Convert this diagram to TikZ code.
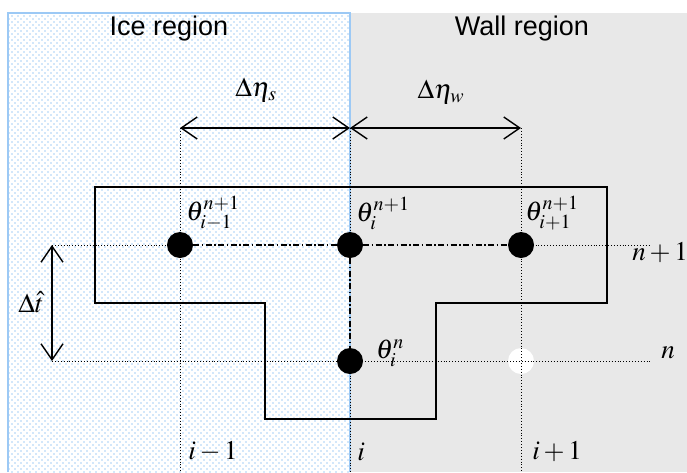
\documentclass[tikz,border=0pt]{standalone}
\usepackage{mathptmx}
\usepackage{fontspec}
\setmainfont{Liberation Sans}
\usetikzlibrary{arrows.meta,patterns.meta}
\definecolor{iceblue}{HTML}{A6D0F5}
\definecolor{iceedge}{HTML}{9CC9F5}
\definecolor{wallgray}{HTML}{E8E8E8}
\tikzset{
  dotnode/.style={circle,fill=black,minimum size=26pt,inner sep=0pt},
  hollownode/.style={circle,fill=white,minimum size=26pt,inner sep=0pt},
  gridline/.style={dotted,line width=0.9pt},
  linkline/.style={dash pattern=on 6pt off 2.5pt on 1.5pt off 2.5pt,line width=1.4pt},
  dimarrow/.style={line width=1.4pt,{Straight Barb[length=16pt,width=22pt,line width=1.4pt]}-{Straight Barb[length=16pt,width=22pt,line width=1.4pt]}},
  boxline/.style={line width=2pt,line join=miter},
  regionlabel/.style={font=\fontsize{27}{30}\selectfont},
  mathlabel/.style={font=\fontsize{27}{29}\selectfont,inner sep=0pt},
}
\begin{document}
\begin{tikzpicture}[x=1pt,y=-1pt]
\useasboundingbox (0,0) rectangle (687,472);
% regions
\fill[wallgray] (350,13) rectangle (687,472);
\fill[white] (8,13) rectangle (350,472);
\fill[pattern={Dots[radius=0.85pt,distance=6pt]},pattern color=iceblue] (8,13) rectangle (350,472);
\fill[pattern={Dots[radius=0.85pt,distance=6pt,xshift=3pt,yshift=3pt]},pattern color=iceblue] (8,13) rectangle (350,472);
\draw[iceedge,line width=1.5pt] (8,472) -- (8,13) -- (350,13) -- (350,472);
\node[regionlabel] (ice) at (169,29) {Ice region};
\node[regionlabel] (wall) at (522,29) {Wall region};
% coordinates
\coordinate (ti1) at (180,128);
\coordinate (ti) at (350,128);
\coordinate (tip) at (521,128);
\coordinate (bi1) at (180,472);
\coordinate (bi) at (350,472);
\coordinate (bip) at (521,472);
\coordinate (la) at (52,245);
\coordinate (ra) at (650,245);
\coordinate (lb) at (52,361);
\coordinate (rb) at (650,361);
% hollow node
\node[hollownode] (e) at (521,361) {};
% grid lines
\draw[gridline] (ti1) -- (bi1);
\draw[gridline] (tip) -- (bip);
\draw[gridline] (ti) -- (350,245);
\draw[gridline] (350,361) -- (bi);
\draw[gridline] (la) -- (180,245);
\draw[gridline] (521,245) -- (ra);
\draw[gridline] (lb) -- (rb);
% T-shaped box
\draw[boxline] (95,187) -- (607,187) -- (607,303) -- (436,303) -- (436,419) -- (265,419) -- (265,303) -- (95,303) -- cycle;
% nodes
\node[dotnode] (a) at (180,245) {};
\node[dotnode] (b) at (350,245) {};
\node[dotnode] (c) at (521,245) {};
\node[dotnode] (d) at (350,361) {};
\draw[linkline] (a) -- (b);
\draw[linkline] (b) -- (c);
\draw[linkline] (b) -- (d);
% dimension arrows
\draw[dimarrow] (ti1) -- (ti);
\draw[dimarrow] (ti) -- (tip);
\draw[dimarrow] (la) -- (lb);
\node[mathlabel] (ds) at (256,90) {$\Delta\eta_s$};
\node[mathlabel] (dw) at (441,92) {$\Delta\eta_w$};
\node[mathlabel] (dt) at (31,302) {$\Delta\hat{t}$};
% labels
\node[mathlabel] (la1) at (213,213) {$\theta_{i-1}^{n+1}$};
\node[mathlabel] (la2) at (383,213) {$\theta_{i}^{n+1}$};
\node[mathlabel] (la3) at (552,213) {$\theta_{i+1}^{n+1}$};
\node[mathlabel] (la4) at (390,353) {$\theta_{i}^{n}$};
\node[mathlabel] (ln1) at (660,253) {$n+1$};
\node[mathlabel] (ln) at (668,353) {$n$};
\node[mathlabel] (li1) at (213,452) {$i-1$};
\node[mathlabel] (li) at (361,452) {$i$};
\node[mathlabel] (li2) at (557,452) {$i+1$};
\end{tikzpicture}
\end{document}
